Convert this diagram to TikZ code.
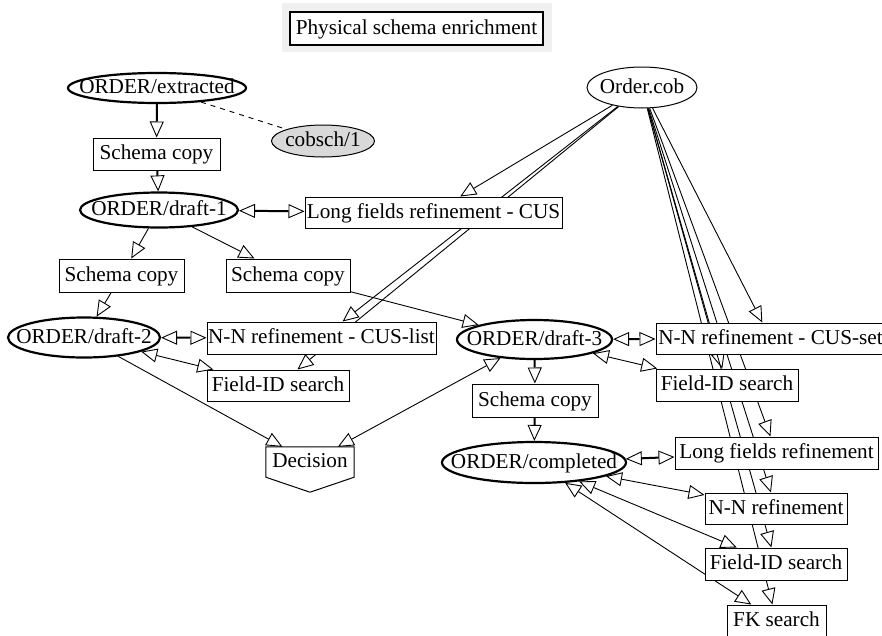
\documentclass[tikz,border=0pt]{standalone}
\usepackage{fontspec}
\setmainfont{Liberation Serif}
\usetikzlibrary{arrows.meta,shapes.geometric}
\pgfdeclarelayer{bg}
\pgfdeclarelayer{back}
\pgfsetlayers{back,bg,main}
\begin{document}
\begin{tikzpicture}[x=1pt,y=-1pt,
  font=\fontsize{21.2}{24}\selectfont,
  >={Triangle[length=16pt,width=14pt,fill=white,line width=0.9pt]},
  box/.style={draw,fill=white,rectangle,inner sep=0pt,line width=1pt,text height=14pt,text depth=3pt},
  ordell/.style={draw,fill=white,ellipse,inner sep=0pt,line width=2.2pt,text height=14pt,text depth=3pt},
  plainell/.style={draw,fill=white,ellipse,inner sep=0pt,line width=1pt,text height=14pt,text depth=3pt},
  edge/.style={line width=0.9pt},
  stub/.style={line width=2pt},
]
\useasboundingbox (0,0) rectangle (882,635);
\begin{pgfonlayer}{back}
\fill[white] (0,0) rectangle (882,635);
\fill[gray!12] (282,3) rectangle (552,52);
\end{pgfonlayer}
% title
\node[box,line width=2.5pt,minimum width=253pt,minimum height=33pt] (title) at (416.5,28.5) {Physical schema enrichment};
% nodes
\node[ordell,minimum width=178pt,minimum height=30pt] (ex) at (157,88) {\makebox[0pt]{ORDER/extracted}};
\node[plainell,fill=gray!30,minimum width=103pt,minimum height=32pt] (cs) at (323,141) {\makebox[0pt]{cobsch/1}};
\node[box,minimum width=127pt,minimum height=32pt] (sc1) at (156.5,154) {Schema copy};
\node[ordell,minimum width=158pt,minimum height=35pt] (d1) at (159,210) {\makebox[0pt]{ORDER/draft-1}};
\node[box,minimum width=257pt,minimum height=31pt] (lfc) at (433.5,212.5) {Long fields refinement - CUS};
\node[box,minimum width=125pt,minimum height=33pt] (sc2) at (121.5,275.5) {Schema copy};
\node[box,minimum width=124pt,minimum height=33pt] (sc3) at (288,275.5) {Schema copy};
\node[ordell,minimum width=152pt,minimum height=40pt] (d2) at (84,337.5) {\makebox[0pt]{ORDER/draft-2}};
\node[box,minimum width=229pt,minimum height=32pt] (nnl) at (321.5,338) {N-N refinement - CUS-list};
\node[box,minimum width=142pt,minimum height=31pt] (fil) at (278,385.5) {Field-ID search};
\node[inner sep=0pt,minimum width=88pt,minimum height=30pt] (dec) at (310,462) {};
\node[plainell,minimum width=110pt,minimum height=41pt] (cob) at (642,87.5) {\makebox[0pt]{Order.cob}};
\node[ordell,minimum width=155pt,minimum height=39pt] (d3) at (534.5,339.5) {\makebox[0pt]{ORDER/draft-3}};
\node[box,minimum width=229pt,minimum height=31pt] (nns) at (770.5,338.5) {N-N refinement - CUS-set};
\node[box,minimum width=142pt,minimum height=32pt] (fir) at (727,385) {Field-ID search};
\node[box,minimum width=126pt,minimum height=33pt] (sc4) at (535,400.5) {Schema copy};
\node[ordell,minimum width=184pt,minimum height=41pt] (dc) at (534,462.5) {\makebox[0pt]{ORDER/completed}};
\node[box,minimum width=203pt,minimum height=32pt] (lf) at (776.5,453) {Long fields refinement};
\node[box,minimum width=142pt,minimum height=31pt] (nn) at (776,508.5) {N-N refinement};
\node[box,minimum width=142pt,minimum height=32pt] (fi2) at (776,564) {Field-ID search};
\node[box,minimum width=99pt,minimum height=32pt] (fk) at (776.5,621) {FK search};
% edges
\begin{pgfonlayer}{bg}
\draw[edge,dash pattern=on 5pt off 5pt] (ex) -- (cs);
\draw[stub,->] (ex) -- (sc1);
\draw[stub,->] (sc1) -- (d1);
\draw[stub,<->] (d1) -- (lfc);
\draw[edge,->] (d1) -- (sc2);
\draw[edge,->] (d1) -- (sc3);
\draw[edge,->] (sc2) -- (d2);
\draw[edge,->] (sc3) -- (d3);
\draw[stub,<->] (d2) -- (nnl);
\draw[edge,<->] (d2) -- (fil);
\draw[edge,->] (d2) -- (dec);
\draw[edge,<->] (d3) -- (dec);
\draw[edge,->] (cob) -- (lfc);
\draw[edge,->] (cob) -- (nnl);
\draw[edge,->] (cob) -- (fil);
\draw[edge,->] (cob) -- (nns);
\draw[edge,->] (cob) -- (fir);
\draw[edge,->] (cob) -- (lf);
\draw[edge,->] (cob) -- (nn);
\draw[edge,->] (cob) -- (fi2);
\draw[edge,->] (cob) -- (fk);
\draw[stub,<->] (d3) -- (nns);
\draw[edge,<->] (d3) -- (fir);
\draw[stub,->] (d3) -- (sc4);
\draw[stub,->] (sc4) -- (dc);
\draw[stub,<->] (dc) -- (lf);
\draw[edge,<->] (dc) -- (nn);
\draw[edge,<->] (dc) -- (fi2);
\draw[edge,<->] (dc) -- (fk);
\draw[line width=1pt,fill=white] (dec.north west) -- (dec.north east) -- (dec.south east) -- ([yshift=-15pt]dec.south) -- (dec.south west) -- cycle;
\end{pgfonlayer}
\node[inner sep=0pt,text height=14pt,text depth=3pt] (dect) at (dec.center) {Decision};
\end{tikzpicture}
\end{document}
